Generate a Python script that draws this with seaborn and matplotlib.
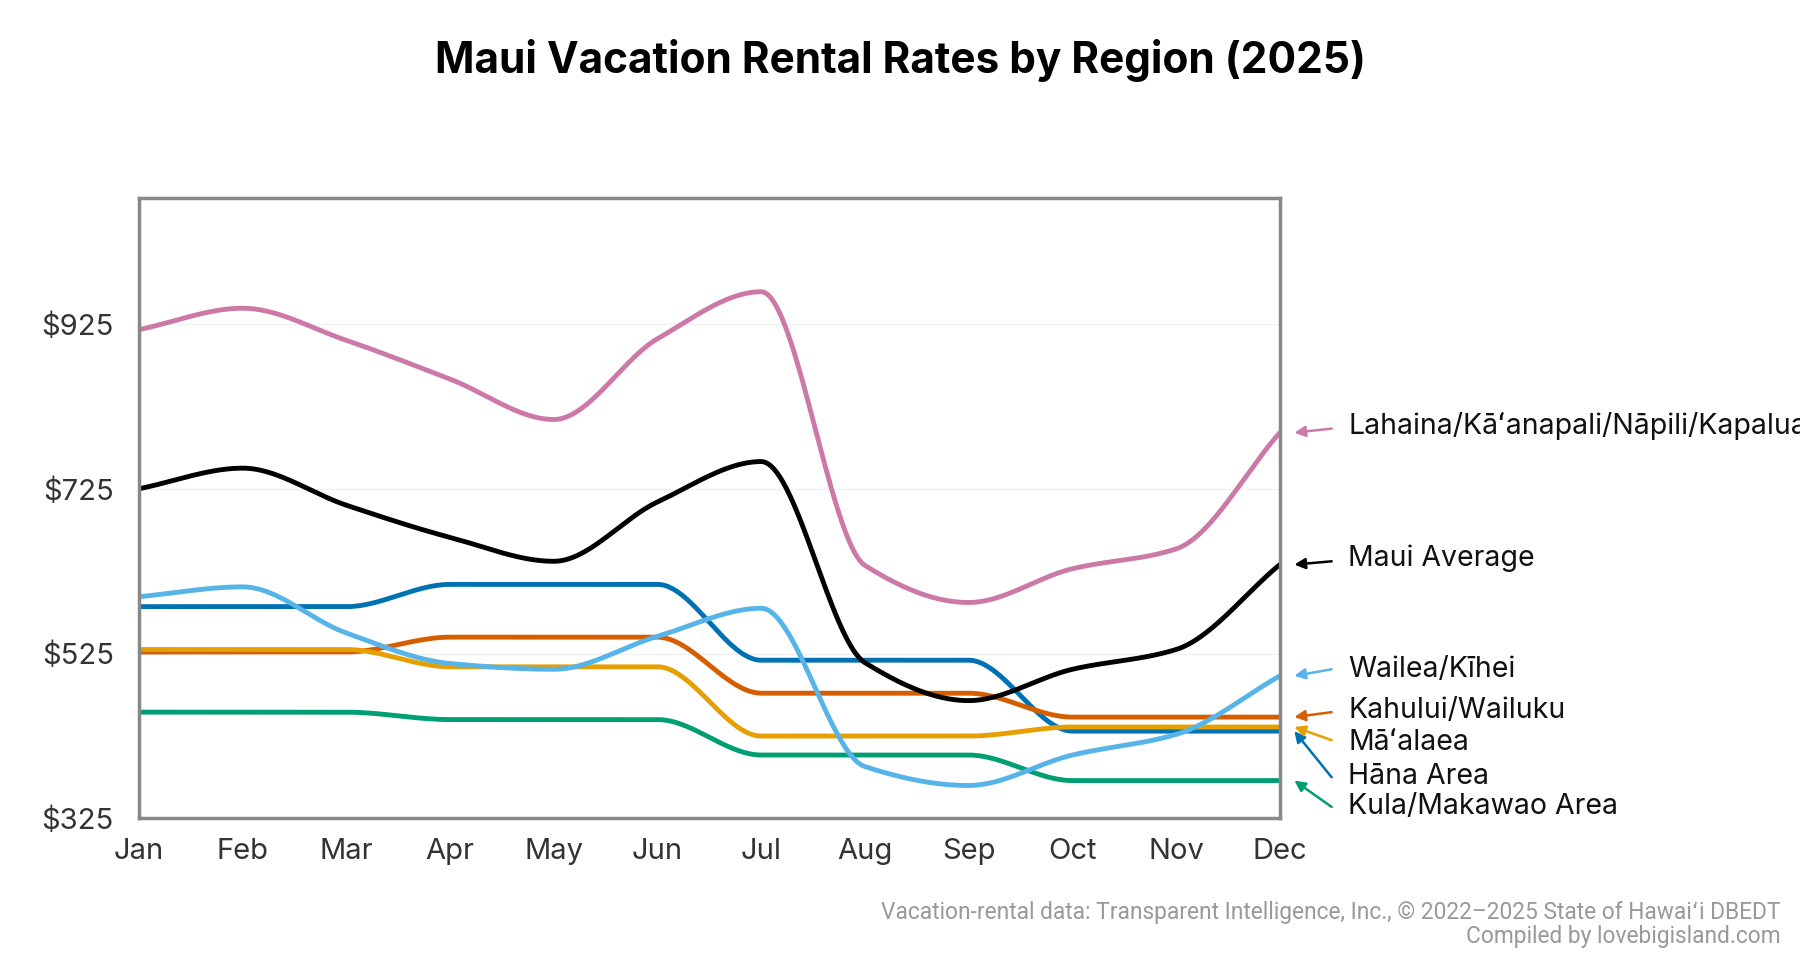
import numpy as np
import pandas as pd
import matplotlib
matplotlib.use("Agg")
import matplotlib.pyplot as plt
import seaborn as sns

# Monthly rates (USD per night).
months = ['Jan', 'Feb', 'Mar', 'Apr', 'May', 'Jun', 'Jul', 'Aug', 'Sep', 'Oct', 'Nov', 'Dec']
kula = [454, 454, 454, 445, 445, 445, 402, 402, 402, 371, 371, 371]
hana = [582, 582, 582, 609, 609, 609, 517, 517, 517, 431, 431, 431]
kahului = [527, 527, 527, 545, 545, 545, 477, 477, 477, 448, 448, 448]
maalaea = [530, 530, 530, 509, 509, 509, 425, 425, 425, 436, 436, 436]
wailea = [594, 606, 550, 513, 506, 546, 580, 388, 365, 402, 427, 498]
lahaina = [918, 944, 905, 858, 809, 907, 964, 632, 587, 628, 652, 793]
maui_avg = [725, 750, 705, 666, 637, 709, 758, 514, 468, 506, 530, 633]

regions = ['Kula/Makawao Area', 'Hāna Area', 'Kahului/Wailuku', 'Māʻalaea',
           'Wailea/Kīhei', 'Lahaina/Kāʻanapali/Nāpili/Kapalua', 'Maui Average']
series = [kula, hana, kahului, maalaea, wailea, lahaina, maui_avg]
colors = ['#009E73', '#0072B2', '#D55E00', '#E69F00', '#56B4E9', '#CC79A7', '#000000']
# y position of each end label and of its arrow tail
label_y = [339, 376, 456, 417, 506, 801, 641]
tail_y = [339, 375, 454, 420, 506, 798, 637]

yticks = [325, 525, 725, 925]


def monotone(x, y, xs):
    # monotone cubic (Fritsch-Carlson) so flat stretches stay flat
    x = np.asarray(x, float)
    y = np.asarray(y, float)
    h = np.diff(x)
    d = np.diff(y) / h
    m = np.zeros(len(y))
    m[0], m[-1] = d[0], d[-1]
    for k in range(1, len(y) - 1):
        if d[k - 1] * d[k] > 0:
            w1 = 2 * h[k] + h[k - 1]
            w2 = h[k] + 2 * h[k - 1]
            m[k] = (w1 + w2) / (w1 / d[k - 1] + w2 / d[k])
    idx = np.clip(np.searchsorted(x, xs) - 1, 0, len(x) - 2)
    t = (xs - x[idx]) / h[idx]
    h00 = 2 * t**3 - 3 * t**2 + 1
    h10 = t**3 - 2 * t**2 + t
    h01 = -2 * t**3 + 3 * t**2
    h11 = t**3 - t**2
    return h00 * y[idx] + h10 * h[idx] * m[idx] + h01 * y[idx + 1] + h11 * h[idx] * m[idx + 1]


sns.set_style("white")
plt.rcParams['font.family'] = ['Inter', 'DejaVu Sans']

fig = plt.figure(figsize=(18, 9.6), dpi=100)
ax = fig.add_axes([0.0772, 0.1474, 0.6338, 0.6466])

xm = np.arange(len(months))
xs = np.linspace(0, len(months) - 1, 600)
frames = []
for name, vals in zip(regions, series):
    frames.append(pd.DataFrame({'x': xs, 'rate': monotone(xm, vals, xs), 'region': name}))
df = pd.concat(frames)

sns.lineplot(data=df, x='x', y='rate', hue='region', hue_order=regions,
             palette=dict(zip(regions, colors)), linewidth=3.5, legend=False, ax=ax)

ax.set_xlim(0, 11)
ax.set_ylim(325, 1078)
ax.set_xticks(xm)
ax.set_xticklabels(months)
ax.set_yticks(yticks)
ax.set_yticklabels([f"${v}" for v in yticks])
ax.tick_params(axis='both', length=0, labelsize=21, labelcolor='#333333')
ax.tick_params(axis='x', pad=14)
ax.tick_params(axis='y', pad=18)
ax.set_xlabel('')
ax.set_ylabel('')
for v in yticks[1:]:
    ax.axhline(v, color='#f0f0f0', lw=1, zorder=0)
for s in ax.spines.values():
    s.set_color('#888888')
    s.set_linewidth(2.5)

# end labels with small arrows pointing at the last value
for name, vals, c, ly, ty in zip(regions, series, colors, label_y, tail_y):
    ax.annotate('', xy=(11.14, vals[-1]), xytext=(11.5, ty), annotation_clip=False,
                arrowprops=dict(arrowstyle='-|>', color=c, lw=1.8, mutation_scale=16,
                                shrinkA=0, shrinkB=0))
    ax.text(11.66, ly, name, fontsize=20.5, color='#111111', va='center', ha='left',
            clip_on=False)

fig.text(0.5, 0.937, 'Maui Vacation Rental Rates by Region (2025)', ha='center', va='center',
         fontsize=30.5, fontweight='bold', color='black')

credit_font = ['Roboto', 'DejaVu Sans']
fig.text(0.989, 0.049, 'Vacation-rental data: Transparent Intelligence, Inc., © 2022–2025 State of Hawaiʻi DBEDT',
         ha='right', va='center', fontsize=16.4, color='#999999', family=credit_font)
fig.text(0.989, 0.025, 'Compiled by lovebigisland.com', ha='right', va='center',
         fontsize=16.4, color='#999999', family=credit_font)

fig.savefig('out.png', dpi=100)
